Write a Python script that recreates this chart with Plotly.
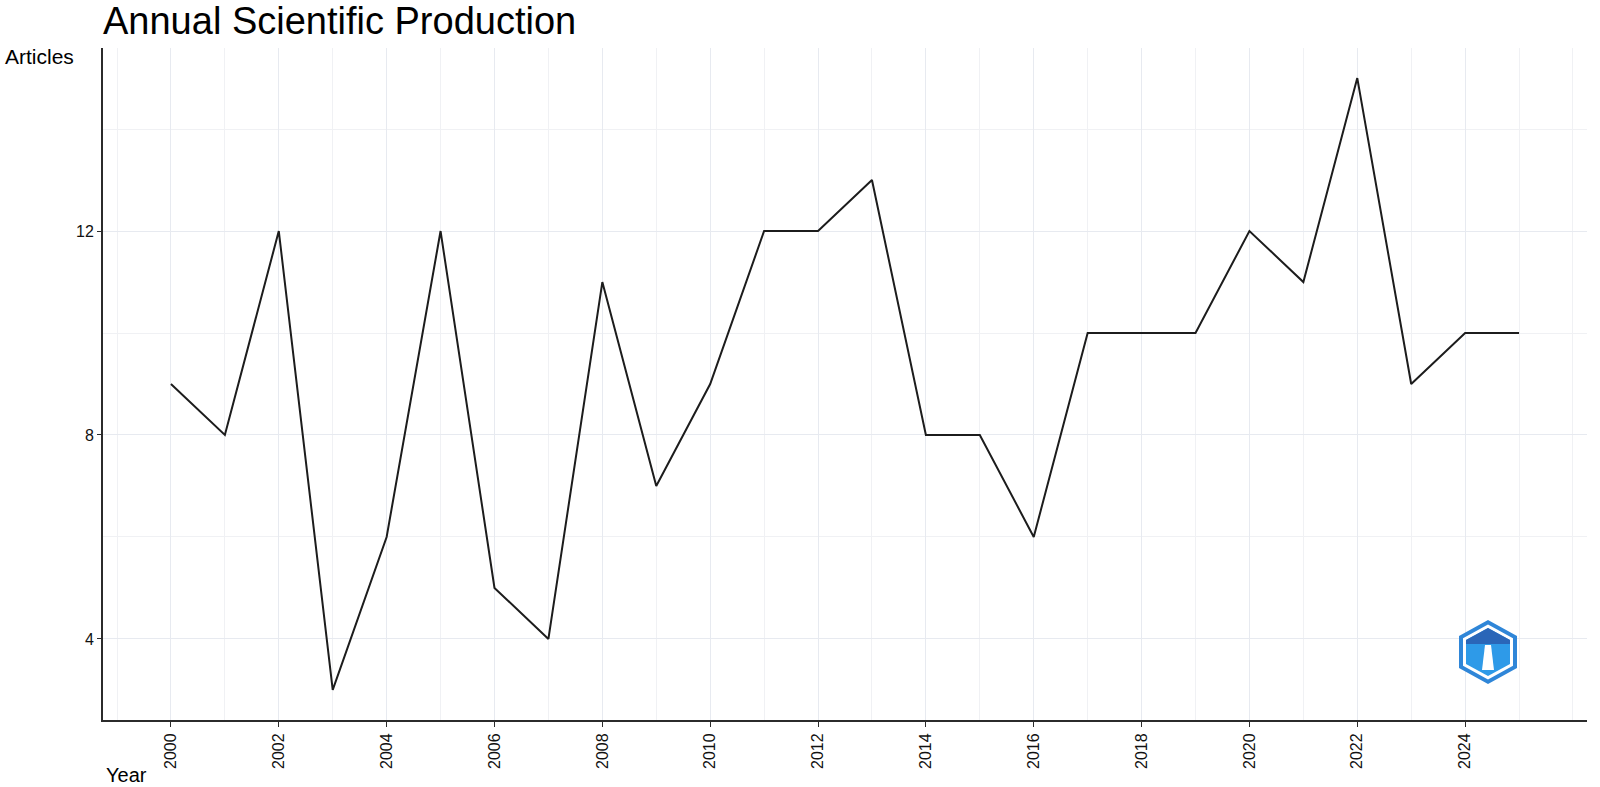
import plotly.graph_objects as go

years = list(range(2000, 2026))
articles = [9, 8, 12, 3, 6, 12, 5, 4, 11, 7, 9, 12, 12, 13, 8, 8, 6, 10, 10, 10, 12, 11, 15, 9, 10, 10]
x_tickvals = list(range(2000, 2025, 2))
y_tickvals = [4, 8, 12]
title_text = "Annual Scientific Production"
y_label = "Articles"
x_label = "Year"

FONT = "Liberation Sans, Arial, sans-serif"
W, H = 1600, 787
L, R, T, B = 103, 13, 48, 67
PW, PH = W - L - R, H - T - B


def px(xp, yp):
    return (xp - L) / PW, (H - B - yp) / PH


fig = go.Figure()
fig.add_trace(go.Scatter(x=years, y=articles, mode="lines",
                         line=dict(color="#1c1c1c", width=2), showlegend=False))

# decorative logo (hexagon badge)
cx, cy = 1488, 652


def poly(pts):
    s = ""
    for i, (dx, dy) in enumerate(pts):
        a, b = px(cx + dx, cy + dy)
        s += ("M" if i == 0 else "L") + f"{a:.5f},{b:.5f} "
    return s + "Z"


def hexpts(rx, ry):
    return [(0, -ry), (rx, -ry / 2), (rx, ry / 2), (0, ry), (-rx, ry / 2), (-rx, -ry / 2)]


shapes = [
    dict(type="path", xref="paper", yref="paper", path=poly(hexpts(29, 32)),
         fillcolor="#2f86d8", line=dict(width=0), layer="above"),
    dict(type="path", xref="paper", yref="paper", path=poly(hexpts(25, 27.5)),
         fillcolor="white", line=dict(width=0), layer="above"),
    dict(type="path", xref="paper", yref="paper", path=poly(hexpts(22, 24)),
         fillcolor="#2e9ae8", line=dict(width=0), layer="above"),
    dict(type="path", xref="paper", yref="paper",
         path=poly([(0, -24), (22, -12), (22, -8), (-22, -8), (-22, -12)]),
         fillcolor="#2a66b8", line=dict(width=0), layer="above"),
    dict(type="path", xref="paper", yref="paper",
         path=poly([(-3, -7), (3, -7), (6, 18), (-6, 18)]),
         fillcolor="white", line=dict(width=0), layer="above"),
]

fig.update_layout(
    width=W, height=H,
    margin=dict(l=L, r=R, t=T, b=B),
    paper_bgcolor="white", plot_bgcolor="white",
    font=dict(family=FONT, color="#111"),
    shapes=shapes,
    annotations=[
        dict(text=title_text, xref="paper", yref="paper", x=(101 - L) / PW, y=1 + (T - 21) / PH,
             xanchor="left", yanchor="middle", showarrow=False,
             font=dict(size=38, family=FONT, color="#000")),
        dict(text=y_label, xref="paper", yref="paper", x=(3 - L) / PW, y=1 + (T - 57) / PH,
             xanchor="left", yanchor="middle", showarrow=False,
             font=dict(size=21, family=FONT, color="#000")),
        dict(text=x_label, xref="paper", yref="paper", x=(104 - L) / PW, y=(H - B - 775) / PH,
             xanchor="left", yanchor="middle", showarrow=False,
             font=dict(size=20, family=FONT, color="#000")),
    ],
)

fig.update_xaxes(
    range=[1998.74, 2026.26], tickmode="array", tickvals=x_tickvals, tickangle=-90,
    showline=True, linecolor="#2b2b2b", linewidth=2,
    ticks="outside", ticklen=5, tickcolor="#2b2b2b", tickwidth=1,
    showgrid=True, gridcolor="#e7eaf0", gridwidth=1, zeroline=False,
    tickfont=dict(size=16, family=FONT, color="#111"),
    minor=dict(dtick=1, tick0=2000, showgrid=True, gridcolor="#f0f1f4", gridwidth=1),
)
fig.update_yaxes(
    range=[2.41, 15.59], tickmode="array", tickvals=y_tickvals,
    showline=True, linecolor="#2b2b2b", linewidth=2,
    ticks="outside", ticklen=4, tickcolor="#2b2b2b", tickwidth=1,
    showgrid=True, gridcolor="#e7eaf0", gridwidth=1, zeroline=False,
    tickfont=dict(size=16, family=FONT, color="#111"),
    minor=dict(dtick=2, tick0=0, showgrid=True, gridcolor="#f0f1f4", gridwidth=1),
)

fig.write_html("out.html", config={"displayModeBar": False},
               post_script="document.body.style.margin='0';")
